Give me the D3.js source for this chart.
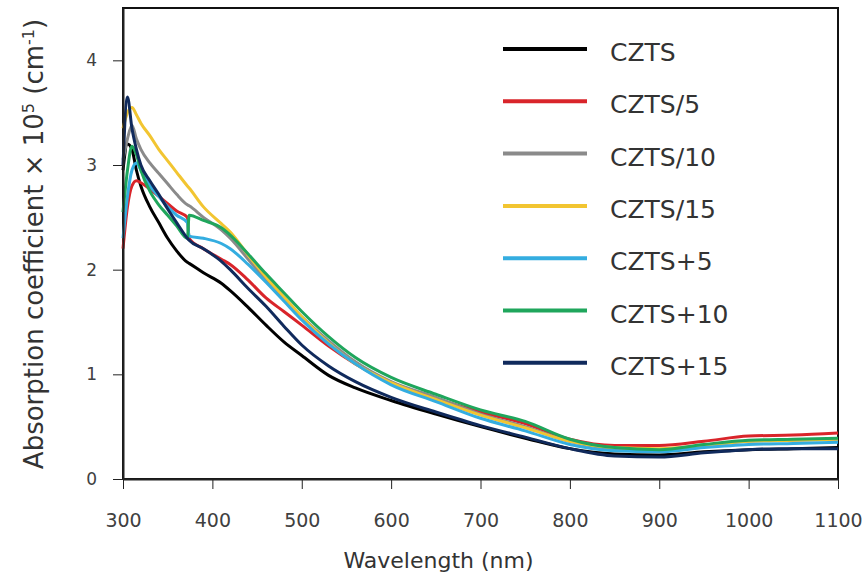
<!DOCTYPE html>
<meta charset="utf-8">
<head>
<title>Absorption coefficient</title>
<style>
body {
    margin: 0;
    background-color: #FFF;
}
text {
    font-family: 'DejaVu Sans';
}
.series {
    fill: none;
    stroke-width: 3px;
    stroke-linejoin: round;
}
.axis path, .axis line {
    stroke: #222;
}
</style>
</head>
<body>
<svg id="chart" width="865" height="581"></svg>
<script src="https://cdn.jsdelivr.net/npm/d3@7/dist/d3.min.js"></script>
<script>

var wavelength = [300, 305, 310, 315, 320, 330, 340, 350, 360, 372, 374, 390, 410, 420, 440, 460, 480, 500, 530, 560, 600, 650, 700, 750, 800, 850, 900, 950, 1000, 1050, 1100];

// absorption coefficient x 10^5 cm^-1
var czts   = [2.95, 3.20, 3.15, 2.95, 2.80, 2.60, 2.45, 2.30, 2.18, 2.07, 2.06, 1.97, 1.87, 1.80, 1.64, 1.47, 1.31, 1.18, 0.99, 0.87, 0.75, 0.62, 0.50, 0.39, 0.29, 0.24, 0.23, 0.26, 0.28, 0.29, 0.30];
var czts5  = [2.20, 2.60, 2.80, 2.85, 2.83, 2.77, 2.70, 2.63, 2.56, 2.50, 2.30, 2.20, 2.10, 2.05, 1.90, 1.73, 1.60, 1.47, 1.27, 1.10, 0.92, 0.77, 0.64, 0.53, 0.38, 0.32, 0.32, 0.36, 0.41, 0.42, 0.44];
var czts10 = [3.05, 3.25, 3.38, 3.25, 3.15, 3.02, 2.92, 2.82, 2.72, 2.62, 2.61, 2.50, 2.38, 2.30, 2.10, 1.90, 1.72, 1.55, 1.32, 1.12, 0.93, 0.78, 0.62, 0.50, 0.36, 0.29, 0.28, 0.32, 0.36, 0.37, 0.38];
var czts15 = [3.35, 3.50, 3.55, 3.48, 3.40, 3.28, 3.15, 3.04, 2.93, 2.80, 2.78, 2.60, 2.44, 2.36, 2.14, 1.93, 1.74, 1.55, 1.30, 1.10, 0.92, 0.76, 0.61, 0.49, 0.36, 0.30, 0.29, 0.32, 0.36, 0.37, 0.38];
var cztsP5  = [2.30, 2.70, 2.95, 3.02, 2.95, 2.80, 2.70, 2.60, 2.52, 2.45, 2.32, 2.30, 2.25, 2.20, 2.05, 1.88, 1.70, 1.52, 1.29, 1.10, 0.90, 0.74, 0.58, 0.46, 0.33, 0.27, 0.26, 0.30, 0.33, 0.34, 0.35];
var cztsP10 = [2.55, 2.95, 3.18, 3.10, 2.95, 2.75, 2.62, 2.52, 2.42, 2.30, 2.52, 2.47, 2.40, 2.33, 2.15, 1.96, 1.78, 1.60, 1.36, 1.16, 0.97, 0.81, 0.66, 0.55, 0.38, 0.30, 0.28, 0.33, 0.37, 0.38, 0.39];
var cztsP15 = [3.00, 3.65, 3.35, 3.15, 3.00, 2.85, 2.72, 2.58, 2.45, 2.30, 2.28, 2.20, 2.08, 2.00, 1.82, 1.65, 1.46, 1.28, 1.08, 0.93, 0.78, 0.64, 0.51, 0.40, 0.29, 0.22, 0.21, 0.25, 0.28, 0.29, 0.29];

var names  = ["CZTS", "CZTS/5", "CZTS/10", "CZTS/15", "CZTS+5", "CZTS+10", "CZTS+15"];
var colors = ["#000000", "#d9242a", "#8a8a8a", "#f2c531", "#34ade0", "#1fa65c", "#102a5c"];
var xTicks = [300, 400, 500, 600, 700, 800, 900, 1000, 1100];
var yTicks = [0, 1, 2, 3, 4];

var seriesVals = [czts, czts5, czts10, czts15, cztsP5, cztsP10, cztsP15];
var series = names.map(function(n, i){
    return {name: n, color: colors[i], values: wavelength.map(function(w, j){ return {x: w, y: seriesVals[i][j]}; })};
});

var mL = 123, mR = 838, mT = 8, mB = 479;
var svg = d3.select("#chart");

var x = d3.scaleLinear().domain([300, 1100]).range([mL, mR]);
var y = d3.scaleLinear().domain([0, 4.5]).range([mB, mT]);

// frame
svg.append("rect")
    .attr("x", mL).attr("y", mT)
    .attr("width", mR - mL).attr("height", mB - mT)
    .attr("fill", "none").attr("stroke", "#111").attr("stroke-width", 2);

var line = d3.line()
    .x(function(d){ return x(d.x); })
    .y(function(d){ return y(d.y); })
    .curve(d3.curveMonotoneX);

svg.append("g").selectAll("path")
    .data(series)
    .enter().append("path")
    .attr("class", "series")
    .attr("stroke", function(d){ return d.color; })
    .attr("d", function(d){ return line(d.values); });

// axes
var xAxis = svg.append("g")
    .attr("class", "axis")
    .attr("transform", "translate(0," + mB + ")")
    .call(d3.axisBottom(x).tickValues(xTicks).tickFormat(d3.format("d")).tickSize(10).tickPadding(25).tickSizeOuter(0));
xAxis.select(".domain").attr("stroke-width", 2);
xAxis.selectAll("text")
    .attr("font-family", "DejaVu Sans")
    .attr("font-size", 19)
    .attr("fill", "#404040");

var yAxis = svg.append("g")
    .attr("class", "axis")
    .attr("transform", "translate(" + mL + ",0)")
    .call(d3.axisLeft(y).tickValues(yTicks).tickFormat(d3.format("d")).tickSize(10).tickPadding(16).tickSizeOuter(0));
yAxis.select(".domain").attr("stroke-width", 2);
yAxis.selectAll("text")
    .attr("font-family", "Liberation Sans")
    .attr("font-size", 17)
    .attr("fill", "#404040");

// axis titles
svg.append("text")
    .attr("x", (mL + mR) / 2 - 42)
    .attr("y", 568)
    .attr("text-anchor", "middle")
    .attr("font-size", 22)
    .attr("fill", "#333")
    .text("Wavelength (nm)");

var yt = svg.append("text")
    .attr("transform", "translate(43,244) rotate(-90)")
    .attr("text-anchor", "middle")
    .attr("font-size", 26)
    .attr("fill", "#333");
yt.append("tspan").text("Absorption coefficient \u00d7 10");
yt.append("tspan").attr("baseline-shift", "super").attr("font-size", 16).text("5");
yt.append("tspan").text(" (cm");
yt.append("tspan").attr("baseline-shift", "super").attr("font-size", 16).text("-1");
yt.append("tspan").text(")");

// legend
var legend = svg.append("g").selectAll("g")
    .data(series)
    .enter().append("g")
    .attr("transform", function(d, i){ return "translate(503," + (49 + i * 52.3) + ")"; });
legend.append("line")
    .attr("x1", 0).attr("x2", 84)
    .attr("stroke", function(d){ return d.color; })
    .attr("stroke-width", 4);
legend.append("text")
    .attr("x", 107).attr("y", 12)
    .attr("font-size", 25)
    .attr("fill", "#333")
    .text(function(d){ return d.name; });

</script>
</body>
